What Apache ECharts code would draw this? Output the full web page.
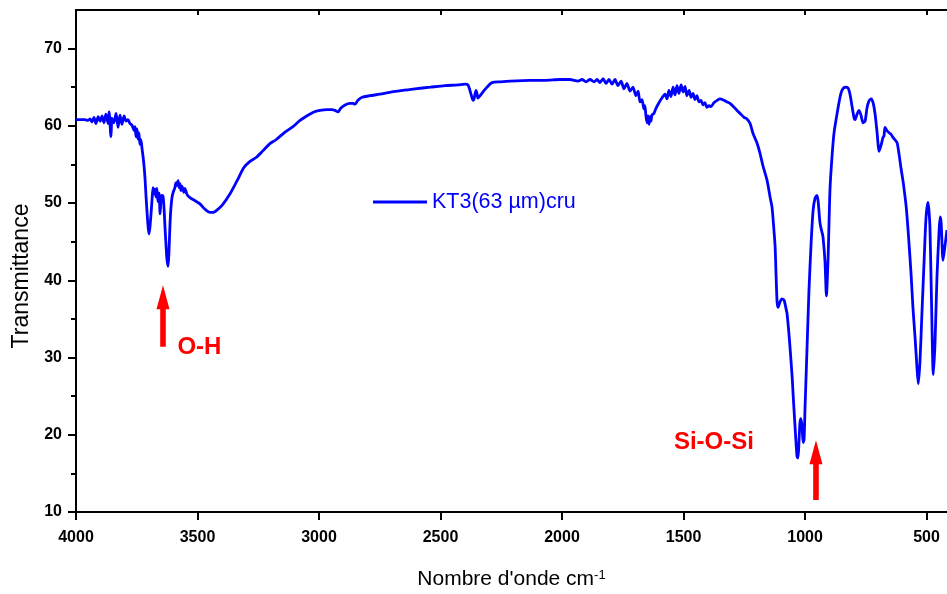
<!DOCTYPE html>
<html><head><meta charset="utf-8">
<script src="https://cdn.jsdelivr.net/npm/echarts@6/dist/echarts.min.js"></script>
<style>html,body{margin:0;padding:0;background:#fff}#c{width:947px;height:594px}</style>
</head><body><div id="c"></div>
<script>
const wavenumbers = [4000,3984,3963,3951,3942,3934,3926,3918,3909,3901,3893,3885,3877,3868,3864,3856,3852,3844,3835,3827,3819,3811,3802,3794,3786,3778,3770,3761,3757,3753,3749,3745,3741,3737,3733,3728,3724,3720,3716,3712,3708,3704,3700,3696,3691,3687,3683,3679,3675,3671,3667,3663,3658,3654,3650,3646,3642,3638,3634,3630,3626,3621,3617,3613,3609,3605,3601,3593,3589,3585,3580,3576,3572,3568,3564,3556,3552,3543,3531,3510,3490,3469,3449,3436,3424,3399,3366,3337,3309,3284,3259,3230,3202,3177,3140,3107,3078,3049,3021,2996,2967,2947,2934,2922,2910,2893,2872,2860,2852,2840,2823,2790,2749,2700,2654,2605,2543,2482,2428,2399,2387,2379,2370,2366,2362,2354,2350,2346,2337,2325,2309,2288,2255,2214,2132,2070,2008,1967,1934,1918,1901,1885,1868,1856,1844,1831,1819,1807,1794,1782,1770,1757,1745,1733,1720,1708,1696,1687,1679,1671,1663,1659,1655,1650,1646,1642,1638,1634,1630,1622,1613,1601,1589,1576,1568,1560,1552,1543,1535,1527,1519,1510,1502,1494,1486,1477,1469,1461,1453,1445,1436,1428,1420,1412,1404,1395,1387,1375,1362,1350,1333,1321,1309,1292,1280,1267,1251,1239,1226,1214,1198,1185,1173,1156,1144,1136,1128,1123,1119,1115,1111,1103,1095,1086,1078,1074,1066,1062,1053,1049,1041,1033,1029,1025,1021,1017,1012,1008,1004,1000,992,984,975,967,959,951,946,938,930,926,918,912,905,901,897,889,881,868,856,848,835,823,815,807,798,794,786,778,770,761,753,745,737,728,720,712,704,695,687,679,675,671,663,654,646,638,630,621,613,605,597,584,576,564,556,547,539,534,527,519,510,502,494,490,486,480,472,465,457,449,444,440,432,424,416];
const transmittance = [60.8,60.8,60.8,60.7,60.9,60.5,61.1,60.3,61.2,60.6,61.3,60.4,61.5,60.3,61.8,58.6,61.0,60.4,61.6,59.8,61.4,60.2,61.3,60.6,60.8,60.3,60.1,59.4,59.9,58.6,59.6,58.3,59.1,57.6,58.2,57.0,56.0,54.8,53.2,51.0,49.0,47.2,46.0,46.8,48.7,50.5,52.0,51.2,51.8,50.8,51.9,50.2,51.3,48.6,50.5,51.0,50.9,49.5,47.0,44.8,42.8,41.8,44.0,47.4,49.5,50.7,51.3,52.0,52.6,52.3,52.9,52.0,52.5,51.6,52.2,51.4,51.9,51.1,50.7,50.3,49.9,49.2,48.8,48.8,49.0,49.7,51.2,52.9,54.6,55.4,55.9,56.8,57.7,58.2,59.2,59.9,60.7,61.3,61.8,62.0,62.1,62.1,62.0,61.8,62.3,62.7,62.9,62.9,62.8,63.3,63.7,63.9,64.1,64.4,64.6,64.8,65.0,65.2,65.3,65.4,65.3,64.6,63.6,63.3,63.5,64.6,64.2,63.6,63.9,64.4,65.0,65.6,65.7,65.8,65.9,65.9,66.0,66.0,65.8,66.0,65.7,66.0,65.7,66.0,65.6,66.1,65.5,66.0,65.4,66.0,65.2,65.8,64.8,65.5,64.5,65.0,63.9,64.5,63.1,63.4,62.2,62.6,61.4,60.4,61.3,60.2,61.2,60.6,61.4,61.6,62.3,63.0,63.6,64.1,63.5,64.6,63.8,65.0,64.0,65.2,64.2,65.3,64.4,65.1,63.9,64.6,63.7,64.2,63.4,63.9,63.1,63.3,62.7,63.0,62.4,62.6,62.5,63.0,63.3,63.5,63.3,63.1,62.9,62.4,62.0,61.6,61.1,60.9,60.3,59.0,57.8,56.4,54.8,52.9,50.8,49.5,46.5,44.3,40.5,37.2,36.5,37.2,37.6,37.4,36.3,35.7,33.0,31.4,27.5,25.2,21.0,17.2,17.0,19.0,21.5,22.1,21.0,19.0,19.4,23.5,31.0,38.5,44.8,49.0,50.6,51.0,50.2,47.3,46.2,45.6,42.5,38.0,43.0,47.8,52.0,56.0,59.0,61.6,63.7,64.6,65.0,64.9,64.1,62.6,61.0,60.8,61.5,62.0,61.4,60.4,60.6,62.3,63.2,63.5,63.0,61.6,59.3,56.7,57.5,58.5,58.7,59.8,59.4,59.1,58.9,58.5,58.2,57.8,56.3,54.5,52.9,49.6,46.5,41.0,36.5,32.5,28.5,26.6,29.5,35.7,42.5,48.2,50.1,49.0,46.9,38.0,27.8,32.0,40.5,46.0,48.2,47.5,42.6,44.5,46.5];
const xTicks = [4000,3500,3000,2500,2000,1500,1000,500];
const yTicks = [10,20,30,40,50,60,70];
const yMinorTicks = [15,25,35,45,55,65];
const seriesName = 'KT3(63 µm)cru';
const labels = [{text:'O-H', x:3492, y:31.3}, {text:'Si-O-Si', x:1375, y:19.0}];
const arrows = [{x:3642, from:31.4, to:39.35}, {x:955, from:11.55, to:19.3}];

const FF = '"Liberation Sans", Arial, sans-serif';
const xMin = 415.8, xMax = 4000, yMin = 10, yMax = 75;
const chart = echarts.init(document.getElementById('c'), null, {renderer:'canvas'});
const axisLine = {show:true, onZero:false, lineStyle:{color:'#000', width:2}};
const plain = v => String(v);
chart.setOption({
  animation:false,
  backgroundColor:'#fff',
  grid:{left:76, right:0, top:10, bottom:82, containLabel:false, outerBoundsMode:'none'},
  legend:{data:[seriesName], left:373, top:191, padding:0, icon:'rect', itemWidth:54, itemHeight:3, itemGap:5,
    textStyle:{color:'#0000ff', fontSize:21.5, fontFamily:FF}},
  xAxis:[
    {type:'value', inverse:true, min:xMin, max:xMax, position:'bottom', axisLine,
     axisTick:{show:true, customValues:xTicks, length:8, lineStyle:{color:'#000', width:2}},
     axisLabel:{customValues:xTicks, formatter:plain, fontWeight:'bold', fontSize:16, color:'#000', margin:18, fontFamily:FF},
     splitLine:{show:false},
     name:'{n|Nombre d\'onde cm}{s|-1}', nameLocation:'middle', nameGap:57,
     nameTextStyle:{color:'#000', fontFamily:FF, fontSize:21,
       rich:{n:{fontSize:21, fontFamily:FF, color:'#000'}, s:{fontSize:13, fontFamily:FF, color:'#000', verticalAlign:'top'}}}},
    {type:'value', inverse:true, min:xMin, max:xMax, position:'top', axisLine,
     axisTick:{show:true, inside:true, customValues:xTicks, length:5, lineStyle:{color:'#000', width:2}},
     axisLabel:{show:false}, splitLine:{show:false}}
  ],
  yAxis:[
    {type:'value', min:yMin, max:yMax, position:'left', axisLine,
     axisTick:{show:true, customValues:yTicks, length:8, lineStyle:{color:'#000', width:2}},
     axisLabel:{customValues:yTicks, formatter:plain, fontWeight:'bold', fontSize:16, color:'#000', margin:14, fontFamily:FF},
     splitLine:{show:false},
     name:'Transmittance', nameLocation:'middle', nameGap:43,
     nameTextStyle:{color:'#000', fontSize:23, fontFamily:FF, padding:[0,30,0,0]}},
    {type:'value', min:yMin, max:yMax, position:'left', axisLine:{show:false},
     axisTick:{show:true, customValues:yMinorTicks, length:5, lineStyle:{color:'#000', width:2}},
     axisLabel:{show:false}, splitLine:{show:false}}
  ],
  series:[{
    name:seriesName, type:'line', xAxisIndex:0, yAxisIndex:0, showSymbol:false, symbol:'none', smooth:0.25,
    data:wavenumbers.map((w,i)=>[w, transmittance[i]]),
    lineStyle:{color:'#0000ff', width:2.8}, itemStyle:{color:'#0000ff'}, clip:true
  }]
});

const gfx = [];
arrows.forEach(a=>{
  const tip = chart.convertToPixel({xAxisIndex:0, yAxisIndex:0}, [a.x, a.to]);
  const base = chart.convertToPixel({xAxisIndex:0, yAxisIndex:0}, [a.x, a.from]);
  const tx = tip[0], ty = tip[1], by = base[1], hl = 24, hw = 6.5, sw = 2.8;
  gfx.push({type:'polygon', shape:{points:[[tx,ty],[tx+hw,ty+hl],[tx+sw,ty+hl],[tx+sw,by],[tx-sw,by],[tx-sw,ty+hl],[tx-hw,ty+hl]]},
    style:{fill:'#ff0000'}, z:10});
});
labels.forEach(l=>{
  const p = chart.convertToPixel({xAxisIndex:0, yAxisIndex:0}, [l.x, l.y]);
  gfx.push({type:'text', x:p[0], y:p[1], style:{text:l.text, fill:'#ff0000', font:'bold 24px '+FF, textAlign:'center', textVerticalAlign:'middle'}, z:10});
});
chart.setOption({graphic:gfx});
</script></body></html>
